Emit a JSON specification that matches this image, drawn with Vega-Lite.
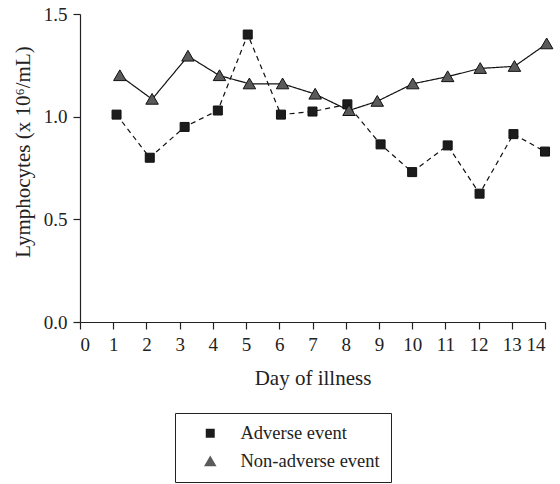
{
  "$schema": "https://vega.github.io/schema/vega-lite/v6.json",
  "autosize": {"type": "none"},
  "padding": {"left": 80, "top": 14, "right": 15, "bottom": 162},
  "width": 465,
  "height": 308,
  "background": "white",
  "config": {
    "font": "Liberation Serif",
    "view": {"stroke": null},
    "axis": {
      "grid": false,
      "domainColor": "#222",
      "domainWidth": 1.2,
      "tickColor": "#222",
      "tickWidth": 1.2,
      "tickSize": 7,
      "labelColor": "#222",
      "labelFont": "Liberation Serif",
      "labelFontSize": 19,
      "titleColor": "#222",
      "titleFont": "Liberation Serif",
      "titleFontSize": 21,
      "titleFontWeight": "normal"
    },
    "legend": {
      "title": null,
      "orient": "none",
      "legendX": 95,
      "legendY": 399,
      "strokeColor": "#222",
      "padding": 11,
      "symbolSize": 100,
      "symbolOffset": 15,
      "labelOffset": 21,
      "rowPadding": 9,
      "symbolStrokeColor": "#111",
      "symbolStrokeWidth": 1.2,
      "labelFont": "Liberation Serif",
      "labelFontSize": 18.5,
      "labelColor": "#222"
    }
  },
  "data": {
    "values": [
      {"day": 1.1, "value": 1.01, "group": "Adverse event"},
      {"day": 2.1, "value": 0.80, "group": "Adverse event"},
      {"day": 3.15, "value": 0.95, "group": "Adverse event"},
      {"day": 4.15, "value": 1.03, "group": "Adverse event"},
      {"day": 5.05, "value": 1.40, "group": "Adverse event"},
      {"day": 6.05, "value": 1.01, "group": "Adverse event"},
      {"day": 7.0, "value": 1.025, "group": "Adverse event"},
      {"day": 8.05, "value": 1.06, "group": "Adverse event"},
      {"day": 9.05, "value": 0.865, "group": "Adverse event"},
      {"day": 10.0, "value": 0.73, "group": "Adverse event"},
      {"day": 11.07, "value": 0.86, "group": "Adverse event"},
      {"day": 12.03, "value": 0.625, "group": "Adverse event"},
      {"day": 13.05, "value": 0.915, "group": "Adverse event"},
      {"day": 14.0, "value": 0.83, "group": "Adverse event"},
      {"day": 1.2, "value": 1.20, "group": "Non-adverse event"},
      {"day": 2.17, "value": 1.085, "group": "Non-adverse event"},
      {"day": 3.25, "value": 1.295, "group": "Non-adverse event"},
      {"day": 4.2, "value": 1.20, "group": "Non-adverse event"},
      {"day": 5.1, "value": 1.16, "group": "Non-adverse event"},
      {"day": 6.1, "value": 1.16, "group": "Non-adverse event"},
      {"day": 7.08, "value": 1.11, "group": "Non-adverse event"},
      {"day": 8.1, "value": 1.03, "group": "Non-adverse event"},
      {"day": 8.95, "value": 1.075, "group": "Non-adverse event"},
      {"day": 10.02, "value": 1.16, "group": "Non-adverse event"},
      {"day": 11.07, "value": 1.195, "group": "Non-adverse event"},
      {"day": 12.05, "value": 1.235, "group": "Non-adverse event"},
      {"day": 13.08, "value": 1.245, "group": "Non-adverse event"},
      {"day": 14.05, "value": 1.355, "group": "Non-adverse event"}
    ]
  },
  "encoding": {
    "x": {
      "field": "day",
      "type": "quantitative",
      "scale": {"domain": [0, 14], "nice": false, "zero": false},
      "axis": {
        "title": "Day of illness",
        "values": [0, 1, 2, 3, 4, 5, 6, 7, 8, 9, 10, 11, 12, 13, 14],
        "format": "d",
        "labelPadding": 6,
        "titlePadding": 13
      }
    },
    "y": {
      "field": "value",
      "type": "quantitative",
      "scale": {"domain": [0, 1.5], "nice": false},
      "axis": {
        "title": "Lymphocytes (x 10⁶/mL)",
        "values": [0, 0.5, 1.0, 1.5],
        "format": ".1f",
        "labelPadding": 6,
        "titlePadding": 10,
        "titleY": 137.5
      }
    }
  },
  "layer": [
    {
      "mark": {"type": "line", "color": "#111", "strokeWidth": 1.2},
      "encoding": {
        "strokeDash": {
          "field": "group",
          "type": "nominal",
          "scale": {"range": [[5, 4], [1, 0]]},
          "legend": null
        }
      }
    },
    {
      "mark": {"type": "point", "filled": true, "opacity": 1, "stroke": "#111", "strokeWidth": 1, "size": 100},
      "encoding": {
        "fill": {
          "field": "group",
          "type": "nominal",
          "scale": {"domain": ["Adverse event", "Non-adverse event"], "range": ["#1c1c1c", "#5a5a5a"]}
        },
        "shape": {
          "field": "group",
          "type": "nominal",
          "scale": {
            "domain": ["Adverse event", "Non-adverse event"],
            "range": ["M-0.9,-0.9H0.9V0.9H-0.9Z", "M0,-1.15L1.25,1L-1.25,1Z"]
          }
        }
      }
    }
  ]
}
